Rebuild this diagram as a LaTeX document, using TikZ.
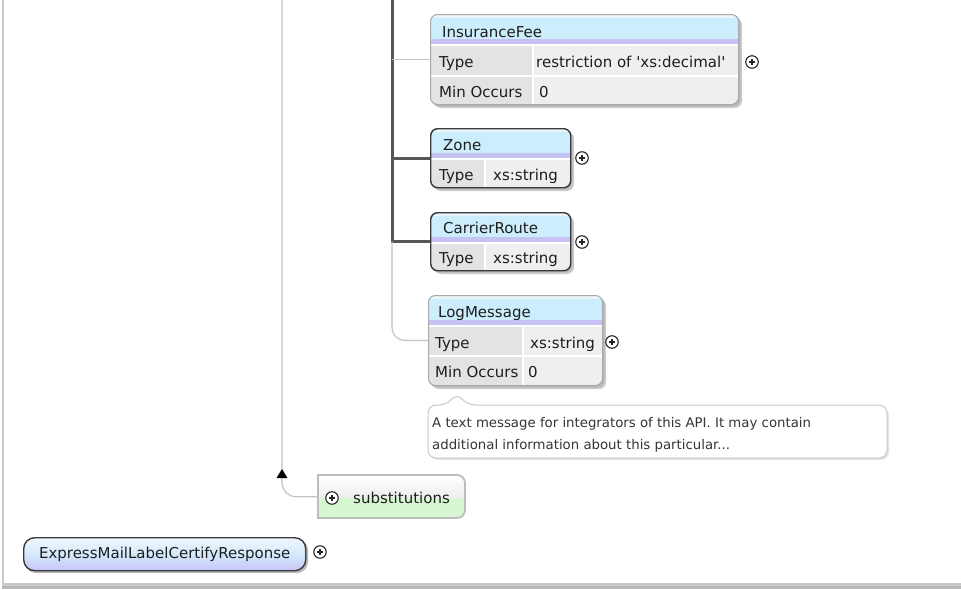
\documentclass[tikz,border=0pt]{standalone}
\usepackage{fontspec}
\setmainfont{DejaVu Sans}[Ligatures=TeXOff]
\usetikzlibrary{arrows.meta,backgrounds}
\definecolor{hdrtop}{HTML}{EAF4F9}
\definecolor{hdrblue}{HTML}{CCEEFC}
\definecolor{hdrlav}{HTML}{C6C2F4}
\definecolor{cellL}{HTML}{E3E3E3}
\definecolor{cellR}{HTML}{EFEFEF}
\definecolor{optb}{HTML}{A9A9A9}
\definecolor{manb}{HTML}{3A3A3A}
\definecolor{shad}{HTML}{B8B8B8}
\definecolor{thinl}{HTML}{C4C4C4}
\definecolor{thickl}{HTML}{575757}
\definecolor{txtc}{HTML}{1E1E1E}
\definecolor{framelight}{HTML}{CACACA}
\definecolor{framedark}{HTML}{B8B8B8}
\definecolor{subgreen}{HTML}{D6F8D0}
\definecolor{subgray}{HTML}{EDEDED}
\definecolor{subborder}{HTML}{BDBDBD}
\definecolor{annb}{HTML}{C8C8C8}
\definecolor{roottop}{HTML}{F0F6FC}
\definecolor{rootmid}{HTML}{D4EAFC}
\definecolor{rootbot}{HTML}{C6C4F6}

% background of an element table: x1 y1 x2 y2 header-bottom divider
\newcommand\elembg[6]{%
  \fill[shad!70,rounded corners=7] (#1+4,#2+4) rectangle (#3+4,#4+4);
  \fill[shad,rounded corners=7] (#1+2,#2+2) rectangle (#3+2.5,#4+2.5);
  \begin{scope}
    \clip[rounded corners=7] (#1,#2) rectangle (#3,#4);
    \fill[white] (#1,#2) rectangle (#3,#4);
    \fill[hdrtop] (#1,#2) rectangle (#3,#2+5);
    \fill[hdrblue] (#1,#2+4) rectangle (#3,#5-5);
    \fill[hdrlav] (#1,#5-5) rectangle (#3,#5);
    \fill[cellL] (#1,#5+2) rectangle (#6-1,#4);
    \fill[cellR] (#6+1,#5+2) rectangle (#3,#4);
  \end{scope}}

\begin{document}
\begin{tikzpicture}[x=1pt,y=-1pt,
  elbox/.style={rectangle,rounded corners=7,inner sep=0pt,anchor=north west},
  optbox/.style={draw=optb,line width=1pt},
  manbox/.style={draw=manb,line width=1.4pt},
  lbl/.style={font=\fontsize{15}{18}\selectfont,text=txtc,anchor=base west,inner sep=0pt},
  note/.style={font=\fontsize{13.3}{16}\selectfont,text=txtc!90,anchor=base west,inner sep=0pt},
  thinc/.style={draw=thinl,line width=1.2pt},
  thickc/.style={draw=thickl,line width=3pt},
  plusc/.style={circle,draw=black!85,fill=white,minimum size=12.5pt,inner sep=0pt,line width=1.1pt,
    path picture={
      \draw[line width=1.1pt,black!85] ([xshift=-3.2pt]path picture bounding box.center) -- ([xshift=3.2pt]path picture bounding box.center);
      \draw[line width=1.1pt,black!85] ([yshift=-3.2pt]path picture bounding box.center) -- ([yshift=3.2pt]path picture bounding box.center);}}
]
\useasboundingbox (0,0) rectangle (961,589);
\begin{scope}[on background layer]
  \fill[white] (0,0) rectangle (961,589);
\end{scope}

% frame
\fill[framelight] (2,0) rectangle (3.6,585);
\fill[framelight] (2,583) rectangle (961,585.5);
\fill[framedark] (2,585.5) rectangle (961,589);

% ---------- InsuranceFee ----------
\elembg{430}{14}{738}{104}{44}{533}
\fill[white] (430,75) rectangle (738,77);
\node[elbox,optbox,minimum width=308pt,minimum height=90pt] (ins) at (430,14) {};
\node[lbl] (insH) at (442,37) {InsuranceFee};
\node[lbl] (insT) at (439,67) {Type};
\node[lbl] (insTv) at (536,67) {restriction of 'xs:decimal'};
\node[lbl] (insM) at (439,97) {Min Occurs};
\node[lbl] (insMv) at (539,97) {0};
\node[plusc] (insP) at (752,62) {};

% ---------- Zone ----------
\elembg{430}{128}{570}{187}{158}{485}
\node[elbox,manbox,minimum width=140pt,minimum height=59pt] (zone) at (430,128) {};
\node[lbl] (zoneH) at (443,150) {Zone};
\node[lbl] (zoneT) at (439,180) {Type};
\node[lbl] (zoneTv) at (493,180) {xs:string};
\node[plusc] (zoneP) at (582,158) {};

% ---------- CarrierRoute ----------
\elembg{430}{212}{570}{270}{242}{485}
\node[elbox,manbox,minimum width=140pt,minimum height=58pt] (carr) at (430,212) {};
\node[lbl] (carrH) at (443,233) {CarrierRoute};
\node[lbl] (carrT) at (439,263) {Type};
\node[lbl] (carrTv) at (493,263) {xs:string};
\node[plusc] (carrP) at (582,242) {};

% ---------- LogMessage ----------
\elembg{428}{295}{602}{385}{325}{523}
\fill[white] (428,355) rectangle (602,357);
\node[elbox,optbox,minimum width=174pt,minimum height=90pt] (logm) at (428,295) {};
\node[lbl] (logH) at (438,317) {LogMessage};
\node[lbl] (logT) at (435,348) {Type};
\node[lbl] (logTv) at (530,348) {xs:string};
\node[lbl] (logM) at (435,377) {Min Occurs};
\node[lbl] (logMv) at (528,377) {0};
\node[plusc] (logP) at (612,342) {};

% ---------- annotation ----------
\fill[black!10,rounded corners=8] (430,408) rectangle (889,460);
\filldraw[fill=white,draw=annb,line width=1pt,rounded corners=8]
  (447,405) -- (457,393) -- (467,405) -- (887,405) -- (887,458) -- (428,458) -- (428,405) -- cycle;
\node[note] (ann1) at (432,427) {A text message for integrators of this API. It may contain};
\node[note] (ann2) at (432,449) {additional information about this particular...};

% ---------- substitutions ----------
\node[rectangle,minimum width=147pt,minimum height=43pt,inner sep=0pt,anchor=north west] (subs) at (318,475) {};
\begin{scope}
  \clip (318,475) -- (457,475) arc[start angle=-90,end angle=0,radius=8] -- (465,510)
        arc[start angle=0,end angle=90,radius=8] -- (318,518) -- cycle;
  \shade[top color=white,bottom color=subgray] (318,475) rectangle (465,498);
  \fill[subgreen] (318,498) rectangle (465,518);
\end{scope}
\draw[draw=subborder,line width=1.8pt] (318,475) -- (457,475) arc[start angle=-90,end angle=0,radius=8] -- (465,510)
        arc[start angle=0,end angle=90,radius=8] -- (318,518) -- cycle;
\node[lbl] (subsT) at (353,503) {substitutions};
\node[plusc] (subsP) at (332,498) {};

% ---------- root element ----------
\fill[shad,rounded corners=11] (25,539) rectangle (308,573);
\node[rectangle,rounded corners=11,draw=manb,line width=1.4pt,top color=roottop,bottom color=rootbot,middle color=rootmid,
      minimum width=282pt,minimum height=33pt,inner sep=0pt,anchor=north west,
      font=\fontsize{15}{18}\selectfont,text=txtc] (root) at (23,537) {ExpressMailLabelCertifyResponse};
\node[plusc] (rootP) at (320,552) {};

% ---------- connectors ----------
\coordinate (seqtop) at (392,0);
\coordinate (subtop) at (282,0);
\coordinate (arrtip) at (282,469);
\begin{scope}[on background layer]
  \draw[thickc] (seqtop) |- (carr.west);
  \draw[thickc] (seqtop |- zone.west) -- (zone.west);
  \draw[thinc] (seqtop |- ins.west) -- (ins.west);
  \draw[thinc,rounded corners=13] (seqtop |- carr.west) |- (logm.west);
  \draw[thinc,rounded corners=14] (subtop) |- (subs.west);
\end{scope}
\fill[black] (arrtip) -- ++(5.5,9) -- ++(-11,0) -- cycle;
\end{tikzpicture}
\end{document}
